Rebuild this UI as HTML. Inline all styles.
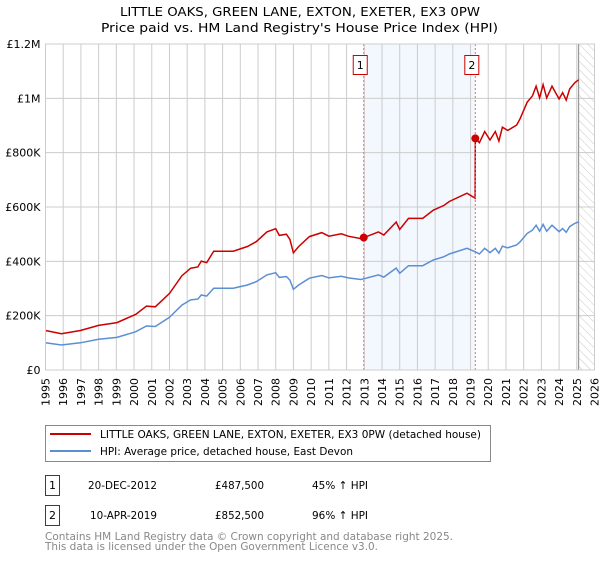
<!DOCTYPE html>
<html><head><meta charset="utf-8"><style>
body{margin:0;background:#fff;font-family:"DejaVu Sans","Liberation Sans",sans-serif;}
svg text{font-family:"DejaVu Sans","Liberation Sans",sans-serif;}
</style></head><body>
<svg id="chart" width="600" height="560" xmlns="http://www.w3.org/2000/svg">
<defs><pattern id="hatch" width="6" height="6" patternUnits="userSpaceOnUse" patternTransform="rotate(-45)"><line x1="0" y1="0" x2="0" y2="6" stroke="#bbb" stroke-width="0.8"/></pattern></defs>
<text x="120" y="16" font-size="12.5" textLength="360" lengthAdjust="spacingAndGlyphs" fill="#000">LITTLE OAKS, GREEN LANE, EXTON, EXETER, EX3 0PW</text>
<text x="101" y="32" font-size="12.5" textLength="397" lengthAdjust="spacingAndGlyphs" fill="#000">Price paid vs. HM Land Registry's House Price Index (HPI)</text>
<g id="plot"></g>
<g>
<rect x="45.5" y="425.5" width="445" height="36" fill="#fff" stroke="#888"/>
<line x1="50" y1="434" x2="91" y2="434" stroke="#cc0000" stroke-width="2"/>
<text x="100" y="438" font-size="11" textLength="381" lengthAdjust="spacingAndGlyphs">LITTLE OAKS, GREEN LANE, EXTON, EXETER, EX3 0PW (detached house)</text>
<line x1="50" y1="451" x2="91" y2="451" stroke="#5b8fd4" stroke-width="2"/>
<text x="100" y="455" font-size="11" textLength="253" lengthAdjust="spacingAndGlyphs">HPI: Average price, detached house, East Devon</text>
</g>
<g font-size="11">
<rect x="45.5" y="475.5" width="14" height="20" fill="#fff" stroke="#cc0000"/>
<text x="52.5" y="489" text-anchor="middle">1</text>
<text x="88" y="489" textLength="69" lengthAdjust="spacingAndGlyphs">20-DEC-2012</text>
<text x="215" y="489" textLength="49" lengthAdjust="spacingAndGlyphs">£487,500</text>
<text x="312" y="489" textLength="56" lengthAdjust="spacingAndGlyphs">45% ↑ HPI</text>
<rect x="45.5" y="505.5" width="14" height="20" fill="#fff" stroke="#cc0000"/>
<text x="52.5" y="519" text-anchor="middle">2</text>
<text x="90" y="519" textLength="67" lengthAdjust="spacingAndGlyphs">10-APR-2019</text>
<text x="215" y="519" textLength="49" lengthAdjust="spacingAndGlyphs">£852,500</text>
<text x="312" y="519" textLength="56" lengthAdjust="spacingAndGlyphs">96% ↑ HPI</text>
</g>
<text x="45" y="540" font-size="11" fill="#888" textLength="408" lengthAdjust="spacingAndGlyphs">Contains HM Land Registry data © Crown copyright and database right 2025.</text>
<text x="45" y="550" font-size="11" fill="#888" textLength="333" lengthAdjust="spacingAndGlyphs">This data is licensed under the Open Government Licence v3.0.</text>
</svg>
<script>
const hpiYears=[1995.0,1995.9,1996.97,1998.0,1999.04,2000.1,2000.7,2001.2,2002.0,2002.7,2003.2,2003.6,2003.8,2004.1,2004.5,2004.9,2005.6,2006.4,2006.9,2007.5,2008.0,2008.2,2008.6,2008.8,2009.0,2009.3,2009.9,2010.6,2011.0,2011.7,2012.1,2012.8,2013.0,2013.8,2014.1,2014.8,2015.0,2015.5,2016.3,2016.9,2017.5,2017.8,2018.8,2019.27,2019.5,2019.8,2020.1,2020.4,2020.6,2020.8,2021.1,2021.6,2021.8,2022.2,2022.5,2022.7,2022.9,2023.1,2023.3,2023.6,2024.0,2024.2,2024.4,2024.6,2024.9,2025.1];
const hpiValues=[100,92,100,113,120,141,162,160,194,239,258,261,276,272,301,301,301,313,325,350,358,341,344,331,297,313,338,348,339,345,339,333,336,350,342,375,356,384,384,405,417,427,448,435,427,448,432,448,430,456,450,460,472,503,515,533,511,536,511,533,509,521,507,528,540,545];
const saleYears=[2012.97,2019.27];
const salePrices=[487.5,852.5];
const saleLabels=["1","2"];
const yTicks=[0,200,400,600,800,1000,1200];
const yTickLabels=["£0","£200K","£400K","£600K","£800K","£1M","£1.2M"];
const xTicks=[];for(let y=1995;y<=2026;y++)xTicks.push(y);
const dataEnd=2025.1;

const X0=45.5,X1=594.5,Y0=370,Y1=44;
const xs=y=>X0+(y-1995)/(2026-1995)*(X1-X0);
const ys=v=>Y0-v/1200*(Y0-Y1);
const NS="http://www.w3.org/2000/svg";
const g=document.getElementById('plot');
function mk(t,a){const e=document.createElementNS(NS,t);for(const k in a)e.setAttribute(k,a[k]);g.appendChild(e);return e;}
function interp(y){for(let i=0;i<hpiYears.length-1;i++){if(y>=hpiYears[i]&&y<=hpiYears[i+1]){const f=(y-hpiYears[i])/(hpiYears[i+1]-hpiYears[i]);return hpiValues[i]+f*(hpiValues[i+1]-hpiValues[i]);}}return hpiValues[hpiValues.length-1];}

let e=mk('rect',{x:xs(saleYears[0]),y:Y1,width:xs(saleYears[1])-xs(saleYears[0]),height:Y0-Y1,fill:'#eef3fd',opacity:0.7});


e=mk('rect',{x:xs(dataEnd),y:Y1,width:X1-xs(dataEnd),height:Y0-Y1,fill:'url(#hatch)'});


xTicks.forEach(t=>{
 const l=mk('line',{x1:xs(t),x2:xs(t),y1:Y1,y2:Y0,stroke:'#ccc','stroke-width':1});
 
 
 const tx=mk('text',{x:0,y:0,'font-size':11,'text-anchor':'end',transform:`translate(${xs(t)+4},${Y0+8}) rotate(-90)`});
 tx.textContent=t;
 
 
});
yTicks.forEach((t,i)=>{
 const l=mk('line',{x1:X0,x2:X1,y1:ys(t),y2:ys(t),stroke:'#ccc','stroke-width':1});
 
 
 const tx=mk('text',{x:X0-5,y:ys(t)+4,'font-size':11,'text-anchor':'end'});
 tx.textContent=yTickLabels[i];
 
 
});
e=mk('line',{x1:xs(dataEnd),x2:xs(dataEnd),y1:Y1,y2:Y0,stroke:'#999','stroke-width':1.2});


let d=hpiYears.map((y,i)=>(i?'L':'M')+xs(y).toFixed(1)+','+ys(hpiValues[i]).toFixed(1)).join('');
e=mk('path',{d:d,fill:'none',stroke:'#5b8fd4','stroke-width':1.5});


const r0=salePrices[0]/interp(saleYears[0]),r1=salePrices[1]/interp(saleYears[1]);
let pts=[];
hpiYears.forEach((y,i)=>{if(y<saleYears[1])pts.push([y,hpiValues[i]*r0]);});
pts.push([saleYears[1]-0.01,interp(saleYears[1]-0.01)*r0]);
pts.push([saleYears[1],salePrices[1]]);
hpiYears.forEach((y,i)=>{if(y>saleYears[1])pts.push([y,hpiValues[i]*r1]);});
d=pts.map((p,i)=>(i?'L':'M')+xs(p[0]).toFixed(1)+','+ys(p[1]).toFixed(1)).join('');
e=mk('path',{d:d,fill:'none',stroke:'#cc0000','stroke-width':1.5});


saleYears.forEach((y,i)=>{
 const l=mk('line',{x1:xs(y),x2:xs(y),y1:Y1,y2:Y0,stroke:'#ff6666','stroke-width':1,'stroke-dasharray':'2,2'});
 
 
 const c=mk('circle',{cx:xs(y),cy:ys(salePrices[i]),r:4,fill:'#cc0000'});
 
 
 const b=mk('rect',{x:xs(y)-10.5,y:55.5,width:14,height:19,fill:'#fff',stroke:'#cc0000'});
 
 
 const t=mk('text',{x:xs(y)-3.5,y:69,'font-size':11,'text-anchor':'middle'});
 t.textContent=saleLabels[i];
 
 
});
e=mk('rect',{x:X0,y:Y1,width:X1-X0,height:Y0-Y1,fill:'none',stroke:'#ccc'});


</script>
</body></html>
